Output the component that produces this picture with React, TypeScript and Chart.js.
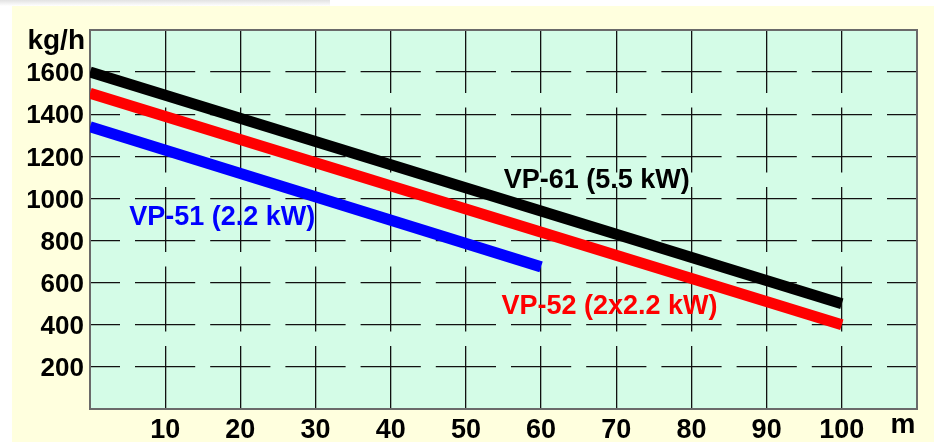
import { useEffect, useRef } from "react";
import { Chart, registerables } from "chart.js";

Chart.register(...registerables);

// distance (m) and capacity (kg/h)
const vp61Distance = [0, 100];
const vp61Capacity = [1600, 500];
const vp52Distance = [0, 100];
const vp52Capacity = [1500, 400];
const vp51Distance = [0, 60];
const vp51Capacity = [1340, 675];

const seriesNames = ["VP-61 (5.5 kW)", "VP-52 (2x2.2 kW)", "VP-51 (2.2 kW)"];
const seriesColors = ["#000000", "#ff0000", "#0000ff"];
// label anchors in data units (distance, capacity)
const labelDistance = [67.4, 69.1, 17.6];
const labelCapacity = [1083, 485, 907];

const xTickLabels = [10, 20, 30, 40, 50, 60, 70, 80, 90, 100];
const yTickLabels = [200, 400, 600, 800, 1000, 1200, 1400, 1600];
const xMax = 110;
const yMax = 1800;
const yUnit = "kg/h";
const xUnit = "m";

const FONT = '"Liberation Sans", Arial, sans-serif';

const toPoints = (xs: number[], ys: number[]) => xs.map((x, i) => ({ x, y: ys[i] }));

const decorPlugin = {
  id: "decor",
  beforeDraw(chart: any) {
    const { ctx, chartArea: a, width, height } = chart;
    ctx.save();
    ctx.fillStyle = "#ffffff";
    ctx.fillRect(0, 0, width, height);
    const g = ctx.createLinearGradient(0, 0, 0, 6);
    g.addColorStop(0, "#e2e2e2");
    g.addColorStop(1, "#ffffff");
    ctx.fillStyle = g;
    ctx.fillRect(0, 0, 330, 6);
    ctx.fillStyle = "#FFFFDE";
    ctx.fillRect(12, 6, width - 12, height - 6);
    ctx.fillStyle = "#D4FCE7";
    ctx.fillRect(a.left, a.top, a.right - a.left, a.bottom - a.top);
    ctx.restore();
  },
  beforeDatasetsDraw(chart: any) {
    const { ctx, chartArea: a } = chart;
    ctx.save();
    ctx.strokeStyle = "#6a6a6a";
    ctx.lineWidth = 2;
    ctx.strokeRect(a.left, a.top, a.right - a.left, a.bottom - a.top);
    ctx.restore();
  },
  afterDatasetsDraw(chart: any) {
    const { ctx, scales, chartArea: a } = chart;
    ctx.save();
    ctx.font = `bold 27px ${FONT}`;
    ctx.textAlign = "center";
    ctx.textBaseline = "middle";
    seriesNames.forEach((name, i) => {
      ctx.fillStyle = seriesColors[i];
      ctx.fillText(
        name,
        scales.x.getPixelForValue(labelDistance[i]),
        scales.y.getPixelForValue(labelCapacity[i])
      );
    });
    ctx.fillStyle = "#000";
    ctx.font = `bold 28px ${FONT}`;
    ctx.textAlign = "right";
    ctx.textBaseline = "alphabetic";
    ctx.fillText(yUnit, a.left - 5, a.top + 19);
    ctx.textAlign = "center";
    ctx.fillText(xUnit, a.right - 14, a.bottom + 24);
    ctx.restore();
  },
};

export default function App() {
  const ref = useRef<HTMLCanvasElement>(null);
  useEffect(() => {
    document.body.style.margin = "0";
    const chart = new Chart(ref.current!, {
      type: "line",
      data: {
        datasets: [
          { data: toPoints(vp61Distance, vp61Capacity) },
          { data: toPoints(vp52Distance, vp52Capacity) },
          { data: toPoints(vp51Distance, vp51Capacity) },
        ].map((d, i) => ({
          ...d,
          label: seriesNames[i],
          borderColor: seriesColors[i],
          backgroundColor: seriesColors[i],
          borderWidth: 11,
          borderCapStyle: "butt" as const,
          pointRadius: 0,
          tension: 0,
          clip: 0,
        })),
      },
      options: {
        animation: false,
        responsive: false,
        events: [],
        layout: { padding: { left: 0, top: 30, right: 17, bottom: 0 } },
        plugins: { legend: { display: false }, tooltip: { enabled: false } },
        scales: {
          x: {
            type: "linear",
            min: 0,
            max: xMax,
            afterFit: (s: any) => {
              s.height = 33;
            },
            ticks: {
              stepSize: 10,
              color: "#000",
              padding: 5,
              font: { family: FONT, size: 27, weight: "bold" },
              maxRotation: 0,
              autoSkip: false,
              callback: (v: any) => (xTickLabels.includes(Number(v)) ? String(v) : ""),
            },
            grid: {
              drawTicks: false,
              color: (c: any) =>
                c.tick && (c.tick.value === 0 || c.tick.value === xMax) ? "rgba(0,0,0,0)" : "#111",
              lineWidth: 1.3,
            },
            border: { display: false, dash: [65, 14.5], dashOffset: 2 },
          },
          y: {
            type: "linear",
            min: 0,
            max: yMax,
            afterFit: (s: any) => {
              s.width = 90;
            },
            ticks: {
              stepSize: 200,
              color: "#000",
              padding: 6,
              labelOffset: 2,
              font: { family: FONT, size: 26, weight: "bold" },
              autoSkip: false,
              callback: (v: any) => (yTickLabels.includes(Number(v)) ? String(v) : ""),
            },
            grid: {
              drawTicks: false,
              color: (c: any) =>
                c.tick && (c.tick.value === 0 || c.tick.value === yMax) ? "rgba(0,0,0,0)" : "#111",
              lineWidth: 1.3,
            },
            border: { display: false, dash: [60.2, 15], dashOffset: 30.2 },
          },
        },
      },
      plugins: [decorPlugin],
    });
    return () => chart.destroy();
  }, []);
  return (
    <div style={{ position: "absolute", left: 0, top: 0, width: 934, height: 442 }}>
      <canvas ref={ref} width={934} height={442} />
    </div>
  );
}
